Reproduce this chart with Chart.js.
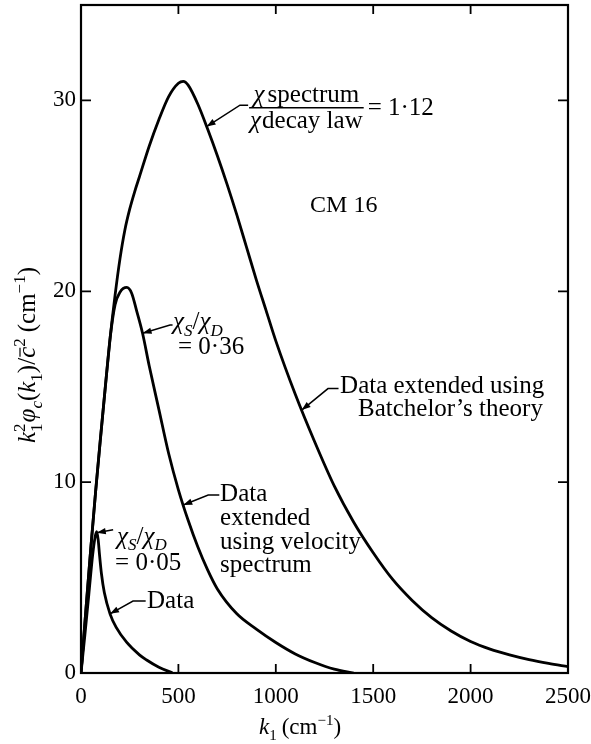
<!DOCTYPE html>
<html>
<head>
<meta charset="utf-8">
<script src="https://cdn.jsdelivr.net/npm/chart.js@4"></script>
<style>
  html, body { margin: 0; padding: 0; background: #fff; }
  #wrap { width: 591px; height: 744px; }
</style>
</head>
<body>
<div id="wrap"><canvas id="c" width="591" height="744"></canvas></div>
<script>
// Wavenumber k1 (cm^-1) and k1^2 phi_c(k1)/c^2 (cm^-1) for the three spectra
const kBig = [0,25,50,75,100,125,150,175,200,225,250,275,300,350,400,450,500,525,550,600,650,700,750,800,850,900,950,1000,1100,1200,1300,1400,1500,1600,1700,1800,1900,2000,2100,2200,2300,2400,2500];
const vBig = [0,3.3,6.5,9.5,12.3,15.0,17.6,19.8,21.7,23.2,24.3,25.2,26.0,27.6,29.0,30.2,30.9,31.0,30.8,29.8,28.5,27.1,25.6,24.0,22.3,20.6,19.0,17.4,14.6,12.1,9.8,7.9,6.3,4.9,3.8,2.9,2.2,1.65,1.25,0.95,0.7,0.5,0.33];

const kMid = [0,25,50,75,100,125,150,175,200,235,260,285,316,350,400,450,500,550,600,650,700,800,900,1000,1100,1200,1300,1400];
const vMid = [0,3.3,6.5,9.5,12.3,15.0,17.6,19.3,19.95,20.2,19.9,19.0,17.8,16.1,13.8,11.5,9.6,8.0,6.6,5.4,4.4,3.1,2.3,1.6,1.0,0.55,0.2,0];

const kSmall = [0,20,40,60,72,80,88,95,105,120,149,180,235,300,337,400,470];
const vSmall = [0,2.0,4.1,6.2,7.1,7.4,7.0,6.2,5.2,4.2,3.1,2.4,1.6,0.95,0.68,0.3,0];

const xTicks = [0, 500, 1000, 1500, 2000, 2500];
const yTicks = [0, 10, 20, 30];

const SERIF = '"Liberation Serif", "Times New Roman", serif';
function font(size, italic) { return (italic ? 'italic ' : '') + size + 'px ' + SERIF; }

const series = { big: [kBig, vBig], mid: [kMid, vMid], small: [kSmall, vSmall] };
function valueOn(name, k) {
  const [ks, vs] = series[name];
  for (let i = 1; i < ks.length; i++) {
    if (k <= ks[i]) {
      const t = (k - ks[i - 1]) / (ks[i] - ks[i - 1]);
      return vs[i - 1] + t * (vs[i] - vs[i - 1]);
    }
  }
  return vs[vs.length - 1];
}

// Mixed-style text: italic, subscripts, superscripts, stacked sub/sup, overline
function drawRich(ctx, segs, x, y, size, align) {
  const small = Math.round(size * 0.66);
  const items = [];
  let total = 0;
  for (const s of segs) {
    let w;
    if (s.ss) {
      ctx.font = font(small, false);
      w = Math.max(ctx.measureText(s.ss[0]).width, ctx.measureText(s.ss[1]).width);
    } else {
      ctx.font = font((s.sub || s.sup) ? small : size, s.it);
      w = ctx.measureText(s.t).width;
    }
    w += (s.gap || 0);
    items.push({ s, w });
    total += w;
  }
  let cx = align === 'center' ? x - total / 2 : align === 'right' ? x - total : x;
  ctx.textAlign = 'left';
  ctx.textBaseline = 'alphabetic';
  for (const { s, w } of items) {
    if (s.ss) {
      ctx.font = font(small, false);
      ctx.fillText(s.ss[0], cx, y + size * 0.26);
      ctx.fillText(s.ss[1], cx, y - size * 0.4);
    } else {
      const sz = (s.sub || s.sup) ? small : size;
      ctx.font = font(sz, s.it);
      const yy = s.sub ? y + size * 0.26 : s.sup ? y - size * 0.4 : y;
      ctx.fillText(s.t, cx, yy);
      if (s.bar) {
        ctx.save();
        ctx.lineWidth = 1.2;
        ctx.beginPath();
        ctx.moveTo(cx + 1, y - size * 0.6);
        ctx.lineTo(cx + w - 1, y - size * 0.6);
        ctx.stroke();
        ctx.restore();
      }
    }
    cx += w;
  }
  return total;
}

const chi = (sub) => [{ t: 'χ', it: true }, { t: sub, it: true, sub: true }];
const ratioSD = [...chi('S'), { t: '/' }, ...chi('D')];

// Leader annotations: arrow tip on a curve, elbow points and text, all in data units
const notes = [
  { curve: 'big', k: 645, path: [[816, 29.75], [858, 29.75]], fraction: true },
  { curve: 'big', k: 1133, path: [[1268, 14.9], [1322, 14.9]],
    lines: [
      { segs: [{ t: 'Data extended using' }], k: 1330, v: 14.65 },
      { segs: [{ t: 'Batchelor’s theory' }], k: 1422, v: 13.45 }
    ] },
  { curve: 'mid', k: 525, path: [[653, 9.33], [710, 9.33]],
    lines: [
      { segs: [{ t: 'Data' }], k: 714, v: 9.0 },
      { segs: [{ t: 'extended' }], k: 714, v: 7.75 },
      { segs: [{ t: 'using velocity' }], k: 714, v: 6.5 },
      { segs: [{ t: 'spectrum' }], k: 714, v: 5.29 }
    ] },
  { curve: 'mid', k: 316, path: [[457, 18.23], [470, 18.23]],
    lines: [
      { segs: ratioSD, k: 472, v: 18.0 },
      { segs: [{ t: '= 0·36' }], k: 498, v: 16.72 }
    ] },
  { curve: 'small', k: 81, path: [[165, 7.5]],
    lines: [
      { segs: ratioSD, k: 185, v: 6.76 },
      { segs: [{ t: '= 0·05' }], k: 175, v: 5.42 }
    ] },
  { curve: 'small', k: 149, path: [[267, 3.77], [332, 3.77]],
    lines: [
      { segs: [{ t: 'Data' }], k: 339, v: 3.4 }
    ] }
];

const LABEL_SIZE = 25;

const framePlugin = {
  id: 'framePlugin',
  afterDraw(chart) {
    const { ctx, chartArea: a, scales: { x, y } } = chart;
    ctx.save();
    ctx.strokeStyle = '#000';
    ctx.fillStyle = '#000';

    // frame
    ctx.lineWidth = 2.2;
    ctx.strokeRect(a.left, a.top, a.right - a.left, a.bottom - a.top);

    // inward tick marks on all four sides
    ctx.lineWidth = 1.8;
    ctx.beginPath();
    for (const t of xTicks.slice(1, -1)) {
      const px = x.getPixelForValue(t);
      ctx.moveTo(px, a.bottom); ctx.lineTo(px, a.bottom - 9);
      ctx.moveTo(px, a.top); ctx.lineTo(px, a.top + 9);
    }
    for (const t of yTicks.slice(1)) {
      const py = y.getPixelForValue(t);
      ctx.moveTo(a.left, py); ctx.lineTo(a.left + 10, py);
      ctx.moveTo(a.right, py); ctx.lineTo(a.right - 10, py);
    }
    ctx.stroke();

    // axis titles
    drawRich(ctx, [
      { t: 'k', it: true }, { t: '1', sub: true, gap: 5 },
      { t: '(cm' }, { t: '−1', sup: true }, { t: ')' }
    ], 300, 734, 23, 'center');
    ctx.save();
    ctx.translate(35, 355);
    ctx.rotate(-Math.PI / 2);
    drawRich(ctx, [
      { t: 'k', it: true }, { ss: ['1', '2'], gap: 1 },
      { t: 'φ', it: true }, { t: 'c', it: true, sub: true },
      { t: '(' }, { t: 'k', it: true }, { t: '1', sub: true }, { t: ')' },
      { t: '/' }, { t: 'c', it: true, bar: true }, { t: '2', sup: true, gap: 6 },
      { t: '(cm' }, { t: '−1', sup: true }, { t: ')' }
    ], 0, 0, 25, 'center');
    ctx.restore();

    // plain label
    drawRich(ctx, [{ t: 'CM 16' }], x.getPixelForValue(1176), y.getPixelForValue(24.15), 24, 'left');

    // leader annotations
    for (const n of notes) {
      const tipX = x.getPixelForValue(n.k);
      const tipY = y.getPixelForValue(valueOn(n.curve, n.k));
      const pts = n.path.map(([k, v]) => [x.getPixelForValue(k), y.getPixelForValue(v)]);
      ctx.lineWidth = 1.5;
      ctx.beginPath();
      ctx.moveTo(tipX, tipY);
      for (const [px, py] of pts) ctx.lineTo(px, py);
      ctx.stroke();
      // arrow head pointing at the curve
      const [ex, ey] = pts[0];
      const ang = Math.atan2(tipY - ey, tipX - ex);
      const L = 9, W = 3.2;
      ctx.beginPath();
      ctx.moveTo(tipX, tipY);
      ctx.lineTo(tipX - L * Math.cos(ang) + W * Math.sin(ang), tipY - L * Math.sin(ang) - W * Math.cos(ang));
      ctx.lineTo(tipX - L * Math.cos(ang) - W * Math.sin(ang), tipY - L * Math.sin(ang) + W * Math.cos(ang));
      ctx.closePath();
      ctx.fill();

      if (n.fraction) {
        const cx = x.getPixelForValue(1157);
        const numY = y.getPixelForValue(29.93);
        const denY = y.getPixelForValue(28.56);
        const barY = y.getPixelForValue(29.62);
        const w1 = drawRich(ctx, [{ t: 'χ', it: true, gap: 3 }, { t: 'spectrum' }], cx, numY, LABEL_SIZE, 'center');
        const w2 = drawRich(ctx, [{ t: 'χ', it: true, gap: 1 }, { t: 'decay law' }], cx, denY, LABEL_SIZE, 'center');
        const hw = Math.max(w1, w2) / 2 + 1;
        ctx.lineWidth = 1.4;
        ctx.beginPath();
        ctx.moveTo(cx - hw, barY); ctx.lineTo(cx + hw, barY);
        ctx.stroke();
        drawRich(ctx, [{ t: '= 1·12' }], cx + hw + 4, y.getPixelForValue(29.22), LABEL_SIZE, 'left');
      } else {
        for (const ln of n.lines) {
          drawRich(ctx, ln.segs, x.getPixelForValue(ln.k), y.getPixelForValue(ln.v), LABEL_SIZE, 'left');
        }
      }
    }
    ctx.restore();
  }
};

const toPoints = (ks, vs) => ks.map((k, i) => ({ x: k, y: vs[i] }));
const lineStyle = {
  showLine: true, borderColor: '#000', borderWidth: 2.8, pointRadius: 0,
  fill: false, cubicInterpolationMode: 'monotone'
};

new Chart(document.getElementById('c'), {
  type: 'scatter',
  data: {
    datasets: [
      { label: 'Batchelor', data: toPoints(kBig, vBig), ...lineStyle },
      { label: 'velocity', data: toPoints(kMid, vMid), ...lineStyle },
      { label: 'data', data: toPoints(kSmall, vSmall), ...lineStyle }
    ]
  },
  options: {
    responsive: false,
    animation: false,
    devicePixelRatio: 1,
    layout: { padding: { left: 0, right: 23, top: 5, bottom: 0 } },
    plugins: { legend: { display: false }, tooltip: { enabled: false } },
    scales: {
      x: {
        type: 'linear', min: 0, max: 2500,
        grid: { display: false, drawTicks: false }, border: { display: false },
        ticks: { maxRotation: 0, autoSkip: false, padding: 10, color: '#000',
                 font: { family: SERIF, size: 23 }, callback: (v) => String(v) },
        afterBuildTicks: (s) => { s.ticks = xTicks.map(v => ({ value: v })); },
        afterFit: (s) => { s.height = 71; s.paddingLeft = 0; s.paddingRight = 0; }
      },
      y: {
        type: 'linear', min: 0, max: 35,
        grid: { display: false, drawTicks: false }, border: { display: false },
        ticks: { padding: 5, color: '#000', font: { family: SERIF, size: 23 },
                 callback: (v) => String(v) },
        afterBuildTicks: (s) => { s.ticks = yTicks.map(v => ({ value: v })); },
        afterFit: (s) => { s.width = 81; s.paddingTop = 0; s.paddingBottom = 0; }
      }
    }
  },
  plugins: [framePlugin]
});
</script>
</body>
</html>
